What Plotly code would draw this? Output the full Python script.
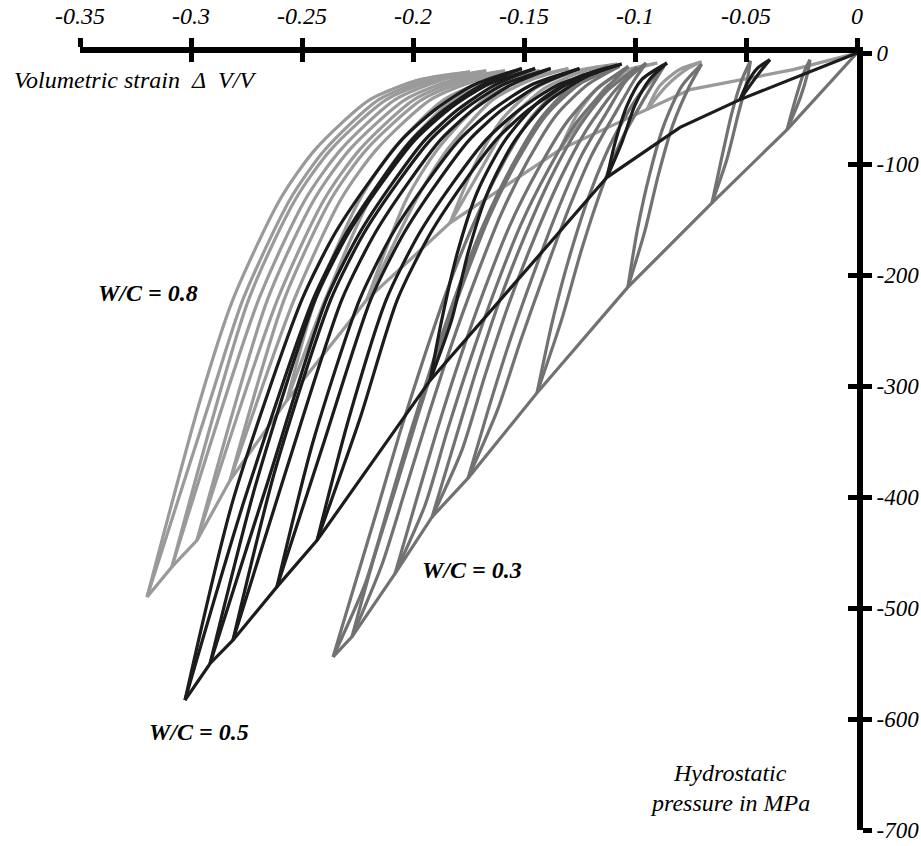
import plotly.graph_objects as go

# ---------------- data (strain, MPa) ----------------
x_tick_vals = [-0.35, -0.3, -0.25, -0.2, -0.15, -0.1, -0.05, 0]
x_tick_text = ["-0.35", "-0.3", "-0.25", "-0.2", "-0.15", "-0.1", "-0.05", "0"]
y_tick_vals = [0, -100, -200, -300, -400, -500, -600, -700]
y_tick_text = ["0", "-100", "-200", "-300", "-400", "-500", "-600", "-700"]

# Each loop: (unloading strain, reloading strain, pressure MPa) from cycle peak up to the top
# W/C = 0.3
wc03_env_strain = [0, -0.0315, -0.0653, -0.1032, -0.1441, -0.1752, -0.1914, -0.2081, -0.2275, -0.2360]
wc03_env_mpa = [0, -69, -135, -211, -306, -383, -418, -469, -526, -544]
wc03_loops = [
    ([-0.0315, -0.0275, -0.0240, -0.0212], [-0.0315, -0.0255, -0.0222, -0.0212], [-69, -40, -18, -6]),
    ([-0.0653, -0.0610, -0.0565, -0.0520, -0.0480], [-0.0653, -0.0585, -0.0535, -0.0495, -0.0480],
     [-135, -95, -55, -25, -7]),
    ([-0.1032, -0.0990, -0.0935, -0.0870, -0.0790, -0.0700], [-0.1032, -0.0955, -0.0895, -0.0830, -0.0755, -0.0700],
     [-211, -160, -110, -65, -30, -10]),
    ([-0.1441, -0.1370, -0.1290, -0.1200, -0.1100, -0.0990, -0.0870],
     [-0.1441, -0.1330, -0.1245, -0.1155, -0.1060, -0.0955, -0.0870],
     [-306, -240, -180, -125, -78, -40, -12]),
    ([-0.1752, -0.1662, -0.1563, -0.1459, -0.1347, -0.1240, -0.1120, -0.1040, -0.0950],
     [-0.1752, -0.1620, -0.1515, -0.1410, -0.1300, -0.1195, -0.1080, -0.1005, -0.0950],
     [-383, -322, -259, -200, -141, -92, -51, -25, -9]),
    ([-0.1914, -0.1824, -0.1721, -0.1617, -0.1505, -0.1383, -0.1260, -0.1130, -0.0990],
     [-0.1914, -0.1780, -0.1675, -0.1570, -0.1458, -0.1338, -0.1218, -0.1095, -0.0990],
     [-418, -358, -290, -227, -169, -114, -69, -35, -13]),
    ([-0.2081, -0.1991, -0.1892, -0.1788, -0.1680, -0.1563, -0.1437, -0.1310, -0.1170, -0.1030],
     [-0.2081, -0.1945, -0.1845, -0.1740, -0.1632, -0.1515, -0.1390, -0.1265, -0.1130, -0.1030],
     [-469, -407, -340, -275, -214, -155, -105, -63, -32, -12]),
    ([-0.2275, -0.2185, -0.2081, -0.1977, -0.1874, -0.1766, -0.1653, -0.1527, -0.1400, -0.1250, -0.1070],
     [-0.2275, -0.2140, -0.2035, -0.1930, -0.1827, -0.1718, -0.1605, -0.1480, -0.1355, -0.1210, -0.1070],
     [-526, -461, -394, -326, -263, -203, -146, -96, -56, -28, -12]),
    ([-0.2360, -0.2261, -0.2162, -0.2059, -0.1955, -0.1847, -0.1730, -0.1599, -0.1470, -0.1320, -0.1120],
     [-0.2360, -0.2215, -0.2115, -0.2012, -0.1908, -0.1800, -0.1683, -0.1552, -0.1425, -0.1280, -0.1120],
     [-544, -478, -412, -342, -277, -214, -155, -101, -59, -29, -12]),
]

# W/C = 0.5
wc05_env_strain = [0, -0.0527, -0.0797, -0.1126, -0.1923, -0.2432, -0.2613, -0.2811, -0.2914, -0.3027]
wc05_env_mpa = [0, -42, -67, -112, -295, -439, -481, -529, -550, -583]
wc05_loops = [
    ([-0.0527, -0.0491, -0.0450, -0.0392], [-0.0527, -0.0470, -0.0425, -0.0392], [-42, -26, -14, -6]),
    ([-0.1126, -0.1090, -0.1035, -0.0970, -0.0856], [-0.1126, -0.1060, -0.1000, -0.0935, -0.0856],
     [-112, -81, -47, -24, -9]),
    ([-0.1923, -0.1870, -0.1800, -0.1710, -0.1590, -0.1440, -0.1260, -0.1060],
     [-0.1923, -0.1825, -0.1752, -0.1662, -0.1545, -0.1398, -0.1225, -0.1060],
     [-295, -240, -180, -125, -80, -45, -22, -10]),
    ([-0.2432, -0.2290, -0.2120, -0.1970, -0.1820, -0.1670, -0.1520, -0.1350, -0.1130],
     [-0.2432, -0.2240, -0.2070, -0.1920, -0.1772, -0.1625, -0.1478, -0.1312, -0.1130],
     [-439, -330, -222, -162, -117, -78, -51, -29, -14]),
    ([-0.2613, -0.2450, -0.2240, -0.2090, -0.1940, -0.1790, -0.1640, -0.1470, -0.1250],
     [-0.2613, -0.2400, -0.2190, -0.2040, -0.1892, -0.1745, -0.1598, -0.1432, -0.1250],
     [-481, -350, -222, -162, -117, -78, -51, -29, -14]),
    ([-0.2811, -0.2620, -0.2370, -0.2220, -0.2070, -0.1920, -0.1770, -0.1600, -0.1380],
     [-0.2811, -0.2570, -0.2320, -0.2170, -0.2022, -0.1875, -0.1728, -0.1562, -0.1380],
     [-529, -375, -222, -162, -117, -78, -51, -29, -14]),
    ([-0.2914, -0.2710, -0.2440, -0.2290, -0.2140, -0.1990, -0.1840, -0.1670, -0.1450],
     [-0.2914, -0.2660, -0.2390, -0.2240, -0.2092, -0.1945, -0.1798, -0.1632, -0.1450],
     [-550, -390, -222, -162, -117, -78, -51, -29, -14]),
    ([-0.3027, -0.2811, -0.2500, -0.2350, -0.2200, -0.2050, -0.1900, -0.1730, -0.1510],
     [-0.3027, -0.2760, -0.2450, -0.2300, -0.2152, -0.2005, -0.1858, -0.1692, -0.1510],
     [-583, -403, -222, -162, -117, -78, -51, -29, -14]),
]

# W/C = 0.8
wc08_env_strain = [0, -0.0288, -0.0752, -0.0946, -0.1338, -0.1833, -0.2207, -0.2568, -0.2824,
                   -0.2973, -0.3086, -0.3198]
wc08_env_mpa = [0, -15, -33, -51, -87, -153, -222, -313, -385, -439, -463, -490]
wc08_loops = [
    ([-0.0946, -0.0890, -0.0800, -0.0700], [-0.0946, -0.0860, -0.0770, -0.0700], [-51, -30, -15, -8]),
    ([-0.1338, -0.1260, -0.1160, -0.1030, -0.0900], [-0.1338, -0.1225, -0.1125, -0.1000, -0.0900],
     [-87, -55, -30, -15, -9]),
    ([-0.1833, -0.1720, -0.1600, -0.1450, -0.1260, -0.1080], [-0.1833, -0.1680, -0.1560, -0.1410, -0.1225, -0.1080],
     [-153, -100, -60, -32, -16, -10]),
    ([-0.2207, -0.2030, -0.1890, -0.1680, -0.1500, -0.1300], [-0.2207, -0.1985, -0.1845, -0.1640, -0.1465, -0.1300],
     [-222, -132, -87, -42, -24, -14]),
    ([-0.2568, -0.2440, -0.2240, -0.2090, -0.1860, -0.1650, -0.1430],
     [-0.2568, -0.2395, -0.2195, -0.2045, -0.1820, -0.1615, -0.1430],
     [-313, -222, -132, -87, -42, -24, -16]),
    ([-0.2824, -0.2580, -0.2370, -0.2210, -0.1960, -0.1740, -0.1510],
     [-0.2824, -0.2535, -0.2325, -0.2165, -0.1920, -0.1705, -0.1510],
     [-385, -222, -132, -87, -42, -24, -16]),
    ([-0.2973, -0.2655, -0.2445, -0.2285, -0.2035, -0.1815, -0.1585],
     [-0.2973, -0.2610, -0.2400, -0.2240, -0.1995, -0.1780, -0.1585],
     [-439, -222, -132, -87, -42, -24, -16]),
    ([-0.3086, -0.2740, -0.2530, -0.2370, -0.2120, -0.1900, -0.1670],
     [-0.3086, -0.2695, -0.2485, -0.2325, -0.2080, -0.1865, -0.1670],
     [-463, -222, -132, -87, -42, -24, -16]),
    ([-0.3198, -0.2959, -0.2811, -0.2599, -0.2441, -0.2194, -0.1968, -0.1743],
     [-0.3198, -0.2914, -0.2766, -0.2554, -0.2396, -0.2154, -0.1933, -0.1743],
     [-490, -313, -222, -132, -87, -42, -24, -17]),
]

series = [
    ("W/C = 0.8", "#9a9a9a", wc08_env_strain, wc08_env_mpa, wc08_loops),
    ("W/C = 0.3", "#727272", wc03_env_strain, wc03_env_mpa, wc03_loops),
    ("W/C = 0.5", "#1c1c1c", wc05_env_strain, wc05_env_mpa, wc05_loops),
]

# ---------------- figure ----------------
fig = go.Figure()
LW = 3.2
for name, color, ex, ey, loops in series:
    fig.add_trace(go.Scatter(x=ex, y=ey, mode="lines", name=name,
                             line=dict(color=color, width=LW), hoverinfo="skip", showlegend=False))
    for ux, rx, py in loops:
        for branch in (ux, rx):
            fig.add_trace(go.Scatter(x=branch, y=py, mode="lines", name=name,
                                     line=dict(color=color, width=LW, shape="spline", smoothing=0.7),
                                     hoverinfo="skip", showlegend=False))

# helper trace so the overlaying axes (inner half of crossing ticks) are drawn
fig.add_trace(go.Scatter(x=[None], y=[None], xaxis="x2", yaxis="y2", showlegend=False, hoverinfo="skip"))

FONT = "Liberation Serif"
xtickfont = dict(family=FONT, size=24, color="black", style="italic")
ytickfont = dict(family=FONT, size=23, color="black", style="italic")

common = dict(showgrid=False, zeroline=False, automargin=False, tickmode="array",
              tickwidth=5, tickcolor="black", ticklen=9)
fig.update_layout(
    width=921, height=846,
    margin=dict(l=80, r=64, t=53, b=16, autoexpand=False),
    paper_bgcolor="white", plot_bgcolor="white",
    xaxis=dict(range=[-0.35, 0], side="top", tickvals=x_tick_vals, ticktext=x_tick_text,
               ticks="outside", showline=True, linewidth=6, linecolor="black",
               tickfont=xtickfont, ticklabelstandoff=4, **common),
    yaxis=dict(range=[-700, 0], side="right", tickvals=y_tick_vals, ticktext=y_tick_text,
               ticks="outside", showline=True, linewidth=6, linecolor="black",
               tickfont=ytickfont, ticklabelstandoff=0, **common),
    xaxis2=dict(range=[-0.35, 0], overlaying="x", side="top", tickvals=x_tick_vals,
                ticks="inside", showticklabels=False, showline=False, **common),
    yaxis2=dict(range=[-700, 0], overlaying="y", side="right", tickvals=y_tick_vals,
                ticks="inside", showticklabels=False, showline=False, **common),
)

lab_font = dict(family=FONT, size=24, color="black", style="italic", weight="bold")
txt_font = dict(family=FONT, size=24, color="black", style="italic")
annotations = [
    dict(text="W/C = 0.8", x=0.0875, y=0.691, font=lab_font),
    dict(text="W/C = 0.3", x=0.5045, y=0.335, font=lab_font),
    dict(text="W/C = 0.5", x=0.153, y=0.126, font=lab_font),
    dict(text="Volumetric strain \u00a0\u0394\u00a0 V/V", x=-0.0875, y=0.965, xanchor="left", font=txt_font),
    dict(text="Hydrostatic", x=0.8366, y=0.0734, font=txt_font),
    dict(text="pressure in MPa", x=0.8366, y=0.0347, font=txt_font),
]
for a in annotations:
    fig.add_annotation(xref="paper", yref="paper", showarrow=False, xanchor=a.get("xanchor", "center"),
                       yanchor="middle", x=a["x"], y=a["y"], text=a["text"], font=a["font"])

fig.write_html("out.html")
